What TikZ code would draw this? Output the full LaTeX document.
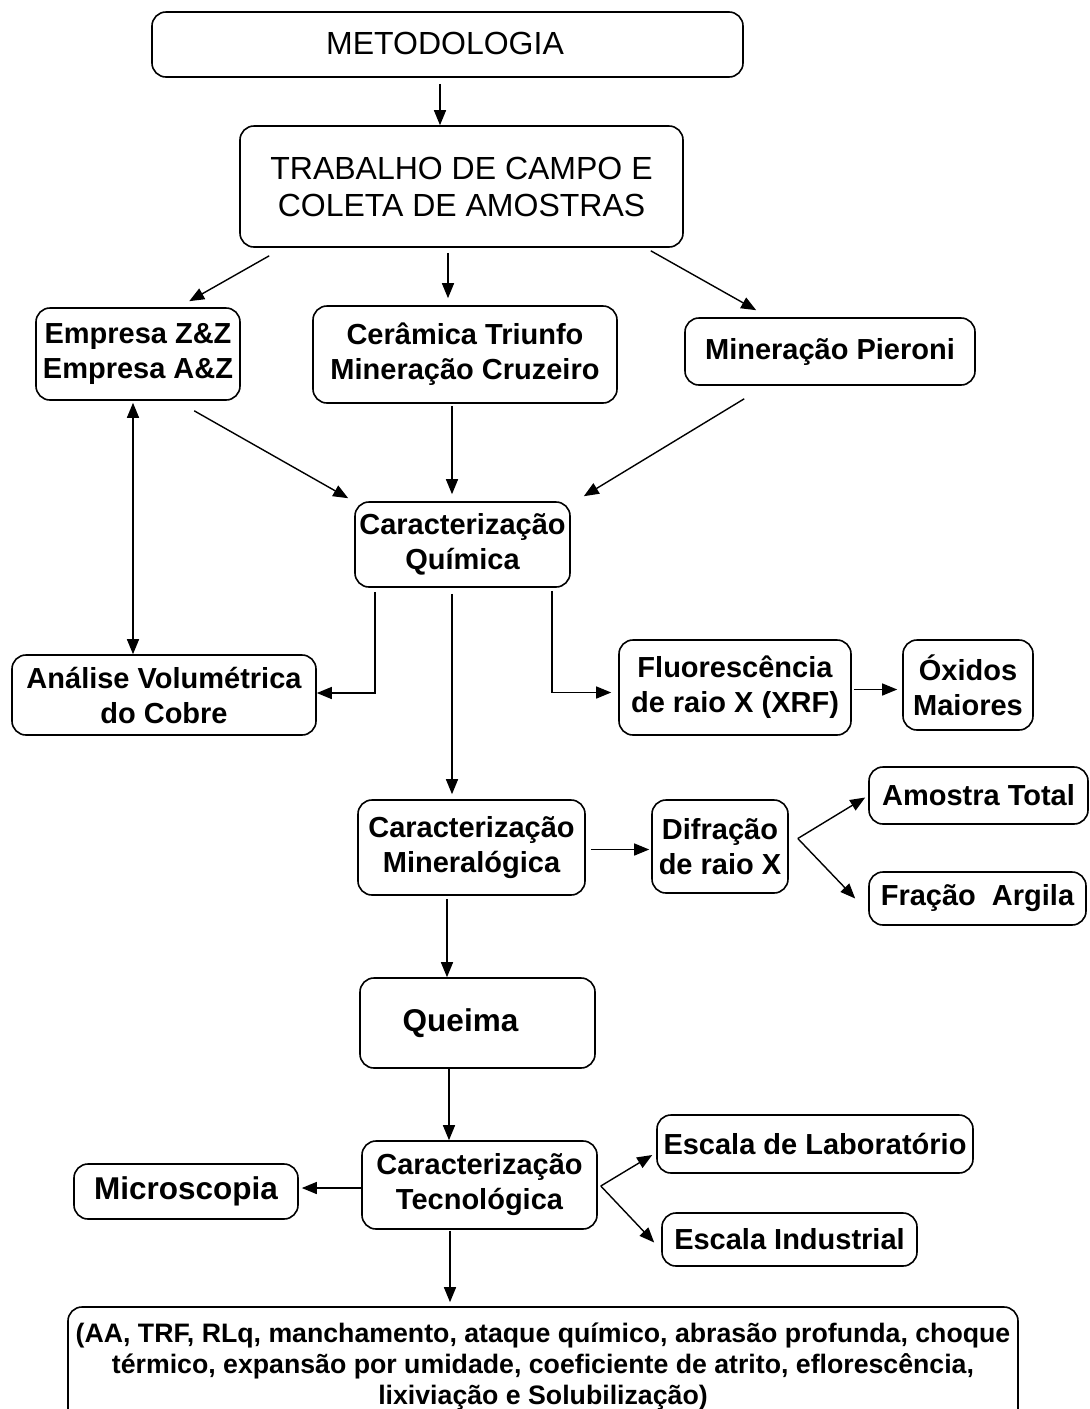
\documentclass[tikz,border=0pt]{standalone}
\usepackage{fontspec}
\setmainfont{Liberation Sans}
\usetikzlibrary{arrows.meta,calc}
\begin{document}
\begin{tikzpicture}[x=1pt,y=-1pt,
  box/.style={draw=black, line width=1.6pt, rounded corners=14pt, inner sep=0pt,
    align=center, font=\bfseries\fontsize{29}{35}\selectfont},
  plain/.style={font=\mdseries\fontsize{32}{37}\selectfont},
  big/.style={font=\bfseries\fontsize{31.5}{36}\selectfont},
  arr/.style={-{Triangle[length=15pt,width=12pt]}, line width=1.4pt},
  darr/.style={{Triangle[length=15pt,width=12pt]}-{Triangle[length=15pt,width=12pt]}, line width=1.4pt}]
\clip (0,0) rectangle (1090,1409);
\fill[white] (0,0) rectangle (1090,1409);

% boxes
\node[box, plain, minimum width=591, minimum height=65] (met) at (447.5,44.5) {\raisebox{3pt}{METODOLOGIA}\hspace{5pt}};
\node[box, plain, minimum width=443, minimum height=121] (trab) at (461.5,186.5) {TRABALHO DE CAMPO E\\COLETA DE AMOSTRAS};
\node[box, minimum width=204, minimum height=92] (emp) at (138,354) {Empresa Z\&Z\\Empresa A\&Z};
\node[box, minimum width=304, minimum height=97] (cer) at (465,354.5) {Cerâmica Triunfo\\Mineração Cruzeiro};
\node[box, minimum width=290, minimum height=67] (pie) at (830,351.5) {Mineração Pieroni};
\node[box, minimum width=215, minimum height=85] (qui) at (462.5,544.5) {Caracterização\\Química};
\node[box, minimum width=304, minimum height=80] (ana) at (164,695) {Análise Volumétrica\\do Cobre};
\node[box, minimum width=232, minimum height=95] (flu) at (735,687.5) {Fluorescência\\de raio X (XRF)};
\node[box, minimum width=130, minimum height=90] (oxi) at (968,685) {Óxidos\\Maiores};
\node[box, minimum width=227, minimum height=95] (min) at (471.5,847.5) {Caracterização\\Mineralógica};
\node[box, minimum width=136, minimum height=93] (dif) at (720,846.5) {Difração\\de raio X};
\node[box, minimum width=219, minimum height=57] (amo) at (978.5,795.5) {Amostra Total};
\node[box, minimum width=217, minimum height=53] (fra) at (977.5,898.5) {Fração~~Argila};
\node[box, big, minimum width=235, minimum height=90] (que) at (477.5,1023) {Queima\hspace{34pt}};
\node[box, minimum width=235, minimum height=88] (tec) at (479.5,1185) {Caracterização\\Tecnológica};
\node[box, big, minimum width=224, minimum height=55] (mic) at (186,1191.5) {Microscopia};
\node[box, minimum width=316, minimum height=58] (lab) at (815,1144) {Escala de Laboratório};
\node[box, minimum width=255, minimum height=53] (ind) at (789.5,1239.5) {Escala Industrial};
\node[box, minimum width=950, minimum height=118, font=\bfseries\fontsize{26.7}{31}\selectfont] (fin) at (543,1366)
  {(AA, TRF, RLq, manchamento, ataque químico, abrasão profunda, choque\\
   térmico, expansão por umidade, coeficiente de atrito, eflorescência,\\
   lixiviação e Solubilização)};

% connectors
\draw[arr, shorten <=6pt] (440,0 |- met.south) -- (440,0 |- trab.north);
\draw[arr] ([shift={(30,8)}]trab.south west) -- ([shift={(154,-6)}]emp.north west);
\draw[arr, shorten <=5pt, shorten >=7pt] (448,0 |- trab.south) -- (448,0 |- cer.north);
\draw[arr] ([shift={(-33,3)}]trab.south east) -- ([shift={(72,-7)}]pie.north west);
\draw[arr] ([shift={(159,10)}]emp.south west) -- ([shift={(-6,-3)}]qui.north west);
\draw[arr, shorten <=2pt, shorten >=7pt] (452,0 |- cer.south) -- (452,0 |- qui.north);
\draw[arr] ([shift={(60,13)}]pie.south west) -- ([shift={(13,-5)}]qui.north east);
\draw[darr, shorten <=2pt] (133,0 |- emp.south) -- (133,0 |- ana.north);
\draw[arr] ([shift={(-87.5,4)}]qui.south) |- ([shift={(0,-2)}]ana.east);
\draw[arr] ([shift={(89.5,3)}]qui.south) |- ([shift={(-7,5)}]flu.west);
\draw[arr, shorten <=2pt, shorten >=5pt] ([yshift=-2pt]flu.east) -- ([yshift=-2pt]flu.east -| oxi.west);
\draw[arr, shorten <=6pt, shorten >=5pt] (452,0 |- qui.south) -- (452,0 |- min.north);
\draw[arr, shorten <=5pt, shorten >=2pt] ([yshift=-2pt]min.east) -- ([yshift=-2pt]min.east -| dif.west);
\draw[arr] ([shift={(9,-8)}]dif.east) -- ([shift={(-3,2)}]amo.west);
\draw[arr] ([shift={(9,-8)}]dif.east) -- ([shift={(-13,0)}]fra.west);
\draw[arr, shorten <=3pt] (447,0 |- min.south) -- (447,0 |- que.north);
\draw[arr] (449,0 |- que.south) -- (449,0 |- tec.north);
\draw[arr, shorten >=3pt] ([yshift=-3pt]tec.west) -- ([yshift=-3pt]tec.west -| mic.east);
\draw[arr] ([shift={(3,1)}]tec.east) -- ([shift={(-4,11)}]lab.west);
\draw[arr] ([shift={(3,1)}]tec.east) -- ([shift={(-7,3)}]ind.west);
\draw[arr, shorten <=1pt, shorten >=4pt] (450,0 |- tec.south) -- (450,0 |- fin.north);
\end{tikzpicture}
\end{document}
